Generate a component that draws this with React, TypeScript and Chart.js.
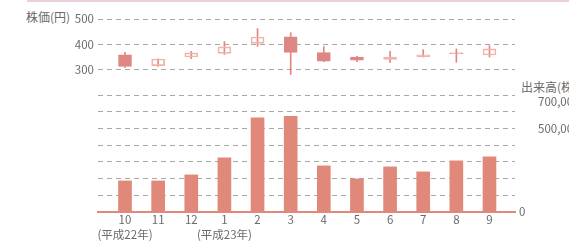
import React, { useEffect, useRef } from 'react';
import { Chart, registerables } from 'chart.js';

Chart.register(...registerables);

// ---- data ----
const months = ['10', '11', '12', '1', '2', '3', '4', '5', '6', '7', '8', '9'];
const eraLabels = ['(平成22年)', '', '', '(平成23年)', '', '', '', '', '', '', '', ''];
const openPrices = [359, 316, 350, 364, 404, 430, 367, 350, 340, 350, 363, 358];
const closePrices = [313, 342, 366, 390, 429, 368, 334, 337, 350, 359, 363, 382];
const highPrices = [368, 343, 372, 411, 462, 446, 391, 353, 372, 379, 382, 395];
const lowPrices = [309, 313, 343, 360, 392, 281, 332, 332, 329, 350, 329, 350];
const volumes = [186000, 186000, 222000, 324000, 564000, 572000, 276000, 198000, 270000, 240000, 306000, 330000];
const priceTickLabels = [300, 400, 500];
const volumeTickLabels = [500000, 700000];
const priceTitle = '株価(円)';
const volumeTitle = '出来高(株)';

// ---- style ----
const FONT = "'Noto Sans CJK JP', 'Noto Sans', sans-serif";
const TEXT = '#6a6a6a';
const GRID = '#a8a8a8';
const SALMON = '#e0887a';
const FILL = '#de8684';
const HOLLOW = '#f0b4ac';
const WICK = '#e3877c';
const X_MIN = -0.815;
const X_MAX = 11.77;
const W = 569;
const H = 243;

const xIdx = months.map((_, i) => i);

export default function App() {
  const topRef = useRef<HTMLCanvasElement>(null);
  const botRef = useRef<HTMLCanvasElement>(null);

  useEffect(() => {
    Chart.defaults.font.family = FONT;
    const down = xIdx.map((i) => openPrices[i] > closePrices[i]);
    const flat = xIdx.map((i) => openPrices[i] === closePrices[i]);

    const top = new Chart(topRef.current!, {
      type: 'bar',
      data: {
        datasets: [
          {
            data: xIdx.map((i) => ({ x: i, y: [openPrices[i], closePrices[i]] })) as any,
            backgroundColor: xIdx.map((i) => (down[i] ? FILL : 'rgba(0,0,0,0)')),
            borderColor: xIdx.map((i) => (down[i] ? FILL : flat[i] ? WICK : HOLLOW)),
            borderWidth: 1,
            borderSkipped: false,
            barThickness: 13,
            minBarLength: 1,
            grouped: false,
            order: 0,
          } as any,
          {
            data: xIdx.map((i) => ({ x: i, y: [lowPrices[i], highPrices[i]] })) as any,
            backgroundColor: WICK,
            barThickness: 1,
            grouped: false,
            order: 1,
          } as any,
        ],
      },
      options: {
        responsive: false,
        animation: false,
        layout: { padding: { top: 19, bottom: 148, left: 0, right: 54 } },
        plugins: { legend: { display: false }, tooltip: { enabled: false } },
        scales: {
          x: { type: 'linear', min: X_MIN, max: X_MAX, offset: false, display: false },
          y: {
            type: 'linear',
            position: 'left',
            min: 200,
            max: 500,
            afterFit: (s: any) => {
              s.width = 98;
            },
            border: { display: false, dash: [5, 4] },
            grid: {
              drawTicks: false,
              color: (c: any) => (c.tick && priceTickLabels.includes(c.tick.value) ? GRID : 'rgba(0,0,0,0)'),
            },
            ticks: {
              stepSize: 100,
              autoSkip: false,
              padding: 4,
              color: TEXT,
              font: { size: 11.5, family: FONT },
              callback: (v: any) => (priceTickLabels.includes(v) ? String(v) : ''),
            },
          },
        },
      } as any,
    });

    const bot = new Chart(botRef.current!, {
      type: 'bar',
      data: {
        datasets: [
          {
            data: xIdx.map((i) => ({ x: i, y: volumes[i] })) as any,
            backgroundColor: SALMON,
            barThickness: 13,
            yAxisID: 'y',
          } as any,
        ],
      },
      options: {
        responsive: false,
        animation: false,
        layout: { padding: { top: 95, bottom: 0, left: 98, right: 0 } },
        plugins: { legend: { display: false }, tooltip: { enabled: false } },
        scales: {
          x: {
            type: 'linear',
            position: 'bottom',
            min: X_MIN,
            max: X_MAX,
            offset: false,
            afterFit: (s: any) => {
              s.height = 31;
            },
            afterBuildTicks: (s: any) => {
              s.ticks = xIdx.map((i) => ({ value: i }));
            },
            border: { display: true, color: SALMON, width: 2 },
            grid: { display: false, drawTicks: false, offset: false },
            ticks: {
              autoSkip: false,
              maxRotation: 0,
              minRotation: 0,
              padding: 0,
              color: TEXT,
              font: { size: 11.5, family: FONT, lineHeight: 15 / 11.5 },
              callback: (v: any) => {
                const i = Math.round(v);
                return eraLabels[i] ? [months[i], eraLabels[i]] : months[i];
              },
            },
          },
          y: {
            type: 'linear',
            position: 'right',
            weight: 0,
            min: 0,
            max: 700000,
            afterFit: (s: any) => {
              s.width = 19;
            },
            border: { display: false, dash: [5, 4] },
            grid: {
              drawTicks: false,
              color: (c: any) => (c.tick && c.tick.value === 0 ? 'rgba(0,0,0,0)' : GRID),
            },
            ticks: {
              stepSize: 100000,
              autoSkip: false,
              padding: 4,
              color: TEXT,
              font: { size: 11.5, family: FONT },
              callback: (v: any) => (v === 0 ? '0' : ''),
            },
          },
          y2: {
            type: 'linear',
            position: 'right',
            weight: 1,
            min: 0,
            max: 700000,
            afterFit: (s: any) => {
              s.width = 35;
            },
            border: { display: false },
            grid: { display: false, drawTicks: false },
            ticks: {
              stepSize: 100000,
              autoSkip: false,
              padding: 4,
              color: TEXT,
              font: { size: 11.5, family: FONT, lineHeight: 14 / 11.5 },
              callback: (v: any) =>
                v === volumeTickLabels[0]
                  ? v.toLocaleString('en-US')
                  : v === volumeTickLabels[1]
                  ? ['', v.toLocaleString('en-US')]
                  : '',
            },
          },
        },
      } as any,
    });

    return () => {
      top.destroy();
      bot.destroy();
    };
  }, []);

  const titleStyle: React.CSSProperties = {
    position: 'absolute',
    fontFamily: FONT,
    fontSize: 12,
    lineHeight: '16px',
    color: TEXT,
    whiteSpace: 'nowrap',
  };

  return (
    <div style={{ position: 'fixed', left: 0, top: 0, width: W, height: H, overflow: 'hidden', background: '#fff' }}>
      <div style={{ position: 'absolute', left: 27, top: 0, width: W - 27, height: 2, background: '#ead0de' }} />
      <span style={{ ...titleStyle, left: 26, top: 9 }}>{priceTitle}</span>
      <span style={{ ...titleStyle, left: 521, top: 79 }}>{volumeTitle}</span>
      <canvas ref={botRef} width={W} height={H} style={{ position: 'absolute', left: 0, top: 0 }} />
      <canvas ref={topRef} width={W} height={H} style={{ position: 'absolute', left: 0, top: 0 }} />
    </div>
  );
}
